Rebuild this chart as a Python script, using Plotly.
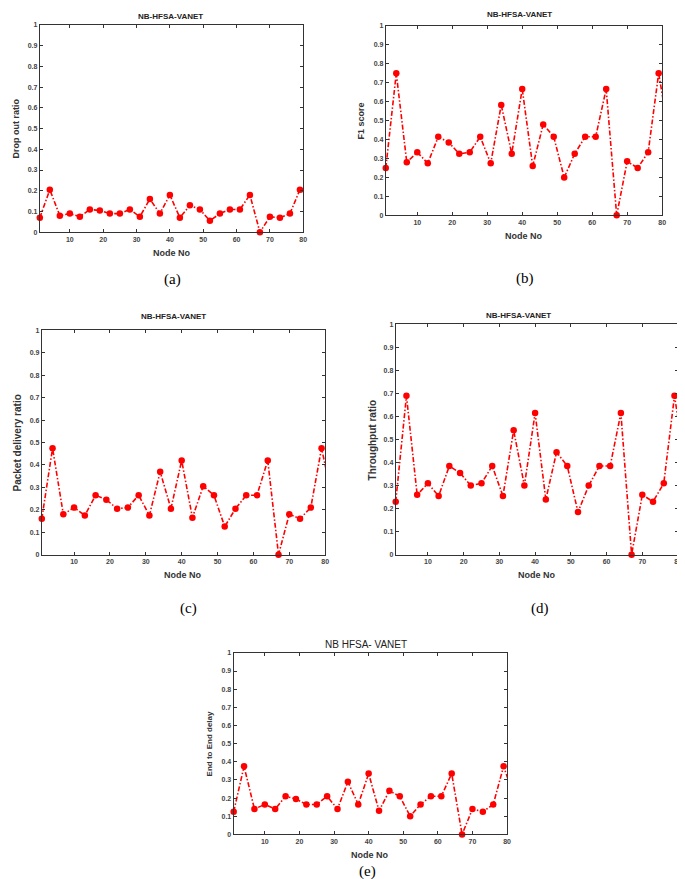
import plotly.graph_objects as go

W, H = 685, 879

# node numbers (last point lies beyond the axis and gets clipped)
node_no = [1, 4, 7, 10, 13, 16, 19, 22, 25, 28, 31, 34, 37, 40, 43, 46, 49, 52,
           55, 58, 61, 64, 67, 70, 73, 76, 79, 82]

drop_out = [0.07, 0.205, 0.08, 0.09, 0.075, 0.11, 0.105, 0.09, 0.09, 0.11, 0.075,
            0.16, 0.09, 0.18, 0.07, 0.13, 0.11, 0.055, 0.09, 0.11, 0.11, 0.18,
            0.0, 0.075, 0.07, 0.09, 0.205, 0.16]
f1_score = [0.25, 0.75, 0.28, 0.333, 0.275, 0.415, 0.385, 0.325, 0.333, 0.415,
            0.275, 0.583, 0.325, 0.667, 0.26, 0.48, 0.415, 0.2, 0.325, 0.415,
            0.415, 0.667, 0.0, 0.285, 0.25, 0.333, 0.75, 0.42]
packet_delivery = [0.16, 0.475, 0.18, 0.21, 0.175, 0.265, 0.245, 0.205, 0.21, 0.265,
                   0.175, 0.37, 0.205, 0.42, 0.165, 0.305, 0.265, 0.125, 0.205,
                   0.265, 0.265, 0.42, 0.0, 0.18, 0.16, 0.21, 0.475, 0.25]
throughput = [0.23, 0.69, 0.26, 0.31, 0.255, 0.385, 0.355, 0.30, 0.31, 0.385,
              0.255, 0.54, 0.30, 0.615, 0.24, 0.445, 0.385, 0.185, 0.30, 0.385,
              0.385, 0.615, 0.0, 0.26, 0.23, 0.31, 0.69, 0.39]
e2e_delay = [0.125, 0.375, 0.14, 0.165, 0.14, 0.21, 0.195, 0.165, 0.165, 0.21,
             0.14, 0.29, 0.165, 0.335, 0.13, 0.24, 0.21, 0.1, 0.165, 0.21, 0.21,
             0.335, 0.0, 0.14, 0.125, 0.165, 0.375, 0.21]

y_ticks = [0, 0.1, 0.2, 0.3, 0.4, 0.5, 0.6, 0.7, 0.8, 0.9, 1]
y_tick_text = ["0", "0.1", "0.2", "0.3", "0.4", "0.5", "0.6", "0.7", "0.8", "0.9", "1"]
x_ticks = [10, 20, 30, 40, 50, 60, 70, 80]


def fx(px):
    return px / W


def fy(py):
    return 1 - py / H


# box = (left, right, top, bottom) in pixels
panels = [
    dict(y=drop_out, box=(32, 297, 13, 222), ylabel="Drop out ratio", ylab_x=8,
         title="NB-HFSA-VANET", title_xy=(163, 5), bold_title=True,
         caption="(a)", cap_xy=(165, 270), lab_size=9, tick_size=7),
    dict(y=f1_score, box=(380, 658, 14, 205), ylabel="F1 score", ylab_x=355,
         title="NB-HFSA-VANET", title_xy=(515, 3), bold_title=True,
         caption="(b)", cap_xy=(520, 269), lab_size=9, tick_size=7),
    dict(y=packet_delivery, box=(34, 319, 321, 547), ylabel="Packet delivery ratio", ylab_x=10,
         title="NB-HFSA-VANET", title_xy=(166, 307), bold_title=True,
         caption="(c)", cap_xy=(182, 601), lab_size=10, tick_size=7),
    dict(y=throughput, box=(390, 674, 315, 547), ylabel="Throughput ratio", ylab_x=367,
         title="NB-HFSA-VANET", title_xy=(514, 306), bold_title=True,
         caption="(d)", cap_xy=(535, 601), lab_size=10, tick_size=7),
    dict(y=e2e_delay, box=(227, 502, 646, 829), ylabel="End to End delay", ylab_x=203,
         title="NB HFSA- VANET", title_xy=(360, 638), bold_title=False,
         caption="(e)", cap_xy=(362, 866), lab_size=8, tick_size=7),
]

fig = go.Figure()
annotations = []
layout_axes = {}

for i, p in enumerate(panels):
    n = "" if i == 0 else str(i + 1)
    left, right, top, bottom = p["box"]

    # dash-dot line, clipped at the axis edge
    fig.add_trace(go.Scatter(
        x=node_no, y=p["y"], mode="lines", xaxis="x" + n, yaxis="y" + n,
        line=dict(color="#ff0000", width=1.6, dash="5px,2px,1.5px,2px"), hoverinfo="skip"
    ))
    fig.add_trace(go.Scatter(
        x=node_no[:-1], y=p["y"][:-1], mode="markers", xaxis="x" + n, yaxis="y" + n,
        marker=dict(color="#ff0000", size=6.5, symbol="circle"), cliponaxis=False
    ))

    tick_font = dict(family="Arial", size=p["tick_size"], color="#444444", weight="bold")
    layout_axes["xaxis" + n] = dict(
        domain=[fx(left), fx(right)], anchor="y" + n, range=[1, 80],
        tickvals=x_ticks, ticks="inside", ticklen=3, tickcolor="#333333",
        showline=True, linecolor="#333333", linewidth=1, mirror="ticks",
        showgrid=False, zeroline=False, tickfont=tick_font,
    )
    layout_axes["yaxis" + n] = dict(
        domain=[fy(bottom), fy(top)], anchor="x" + n, range=[0, 1],
        tickvals=y_ticks, ticktext=y_tick_text, ticks="inside", ticklen=3,
        tickcolor="#333333", showline=True, linecolor="#333333", linewidth=1,
        mirror="ticks", showgrid=False, zeroline=False, tickfont=tick_font,
    )

    lab_font = dict(family="Arial", size=p["lab_size"], color="#333333", weight="bold")
    annotations.append(dict(
        text=p["ylabel"], x=fx(p["ylab_x"]), y=fy((top + bottom) / 2), xref="paper",
        yref="paper", textangle=-90, showarrow=False, font=lab_font,
        xanchor="center", yanchor="middle"
    ))
    annotations.append(dict(
        text="Node No", x=fx((left + right) / 2), y=fy(bottom + 21), xref="paper",
        yref="paper", showarrow=False, font=dict(family="Arial", size=9, color="#333333", weight="bold"),
        xanchor="center", yanchor="middle"
    ))
    if p["bold_title"]:
        tfont = dict(family="Arial", size=8, color="#222222", weight="bold")
    else:
        tfont = dict(family="Arial", size=10, color="#222222")
    annotations.append(dict(
        text=p["title"], x=fx(p["title_xy"][0]), y=fy(p["title_xy"][1]), xref="paper",
        yref="paper", showarrow=False, font=tfont, xanchor="center", yanchor="middle"
    ))
    annotations.append(dict(
        text=p["caption"], x=fx(p["cap_xy"][0]), y=fy(p["cap_xy"][1]), xref="paper",
        yref="paper", showarrow=False,
        font=dict(family="Liberation Serif", size=15, color="#000000"),
        xanchor="center", yanchor="middle", borderpad=0
    ))

fig.update_layout(
    width=W, height=H, margin=dict(l=0, r=0, t=0, b=0),
    paper_bgcolor="white", plot_bgcolor="white", showlegend=False,
    annotations=annotations, **layout_axes
)

fig.write_html("out.html")
